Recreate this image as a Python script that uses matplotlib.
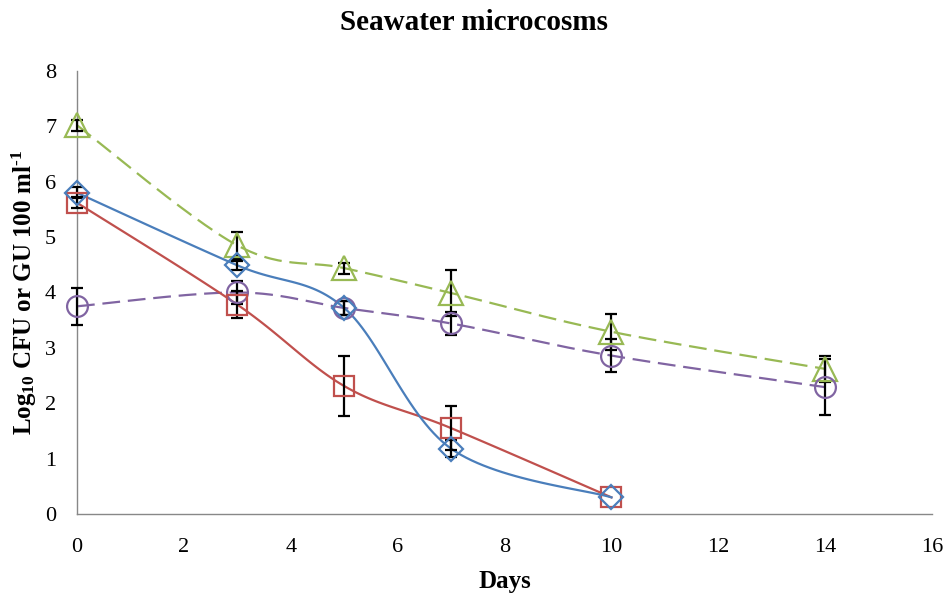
import numpy as np
import matplotlib
matplotlib.use("Agg")
import matplotlib.pyplot as plt

plt.rcParams['font.family'] = ['Liberation Serif', 'DejaVu Serif']
plt.rcParams['mathtext.fontset'] = 'custom'
plt.rcParams['mathtext.rm'] = 'Liberation Serif:bold'
plt.rcParams['mathtext.it'] = 'Liberation Serif:bold'
plt.rcParams['mathtext.bf'] = 'Liberation Serif:bold'

# values
days_short = [0, 3, 5, 7, 10]
days_long = [0, 3, 5, 7, 10, 14]

blue_vals = [5.8, 4.49, 3.72, 1.18, 0.3]
blue_err = [0.1, 0.08, 0.12, 0.15, 0.0]

red_vals = [5.62, 3.78, 2.31, 1.55, 0.3]
red_err = [0.1, 0.25, 0.54, 0.4, 0.0]

green_vals = [7.02, 4.85, 4.44, 3.99, 3.29, 2.62]
green_err = [0.1, 0.25, 0.1, 0.42, 0.33, 0.24]

purple_vals = [3.75, 4.0, 3.72, 3.44, 2.86, 2.29]
purple_err = [0.33, 0.2, 0.12, 0.2, 0.3, 0.5]


def smooth(x, y, n=30):
    # excel-like bezier smoothing
    x = np.asarray(x, float)
    y = np.asarray(y, float)
    pts = np.column_stack([x, y])
    out = []
    for i in range(len(pts) - 1):
        p0 = pts[i - 1] if i > 0 else pts[i]
        p1 = pts[i]
        p2 = pts[i + 1]
        p3 = pts[i + 2] if i + 2 < len(pts) else pts[i + 1]
        c1 = p1 + (p2 - p0) / 6.0
        c2 = p2 - (p3 - p1) / 6.0
        t = np.linspace(0, 1, n)[:, None]
        seg = ((1 - t) ** 3) * p1 + 3 * ((1 - t) ** 2) * t * c1 + 3 * (1 - t) * t ** 2 * c2 + t ** 3 * p2
        out.append(seg if i == 0 else seg[1:])
    seg = np.vstack(out)
    return seg[:, 0], seg[:, 1]


fig = plt.figure(figsize=(9.47, 5.96), dpi=100)
ax = fig.add_axes([0.0813, 0.1376, 0.903, 0.7434])

dash = (0, (8, 3.5))
series = [
    (days_long, green_vals, green_err, '#98B954', '^', dash, 17),
    (days_long, purple_vals, purple_err, '#8064A2', 'o', dash, 15),
    (days_short, red_vals, red_err, '#C0504D', 's', '-', 15),
    (days_short, blue_vals, blue_err, '#4A7EBB', 'D', '-', 12),
]

for x, y, e, col, mk, ls, ms in series:
    sx, sy = smooth(x, y)
    ax.plot(sx, sy, color=col, lw=1.6, linestyle=ls, zorder=2)
    # skip points with no error bar
    ex = [a for a, b in zip(x, e) if b > 0]
    ey = [a for a, b in zip(y, e) if b > 0]
    ee = [b for b in e if b > 0]
    ax.errorbar(ex, ey, yerr=ee, fmt='none', ecolor='black', elinewidth=1.6,
                capsize=4, capthick=1.6, zorder=3, clip_on=False)
    ax.plot(x, y, linestyle='none', marker=mk, markersize=ms,
            markerfacecolor='none', markeredgecolor=col, markeredgewidth=1.6,
            zorder=4, clip_on=False)

ax.set_xlim(0, 16)
ax.set_ylim(0, 8)
ax.set_xticks(range(0, 17, 2))
ax.set_yticks(range(0, 9))
ax.tick_params(axis='both', length=0, labelsize=16)
ax.tick_params(axis='x', pad=17)
ax.tick_params(axis='y', pad=15)
for s in ['top', 'right']:
    ax.spines[s].set_visible(False)
for s in ['left', 'bottom']:
    ax.spines[s].set_color('#888888')
    ax.spines[s].set_linewidth(1.0)

# excel centres the title over the whole chart
fig.text(0.5, 0.962, 'Seawater microcosms', fontsize=21, fontweight='bold',
         ha='center', va='center')
ax.set_xlabel('Days', fontsize=18, fontweight='bold', labelpad=10)
ax.set_ylabel('Log$_{10}$ CFU or GU 100 ml$^{\\text{-}1}$', fontsize=18,
              fontweight='bold', labelpad=4)

fig.savefig('out.png', dpi=100)
